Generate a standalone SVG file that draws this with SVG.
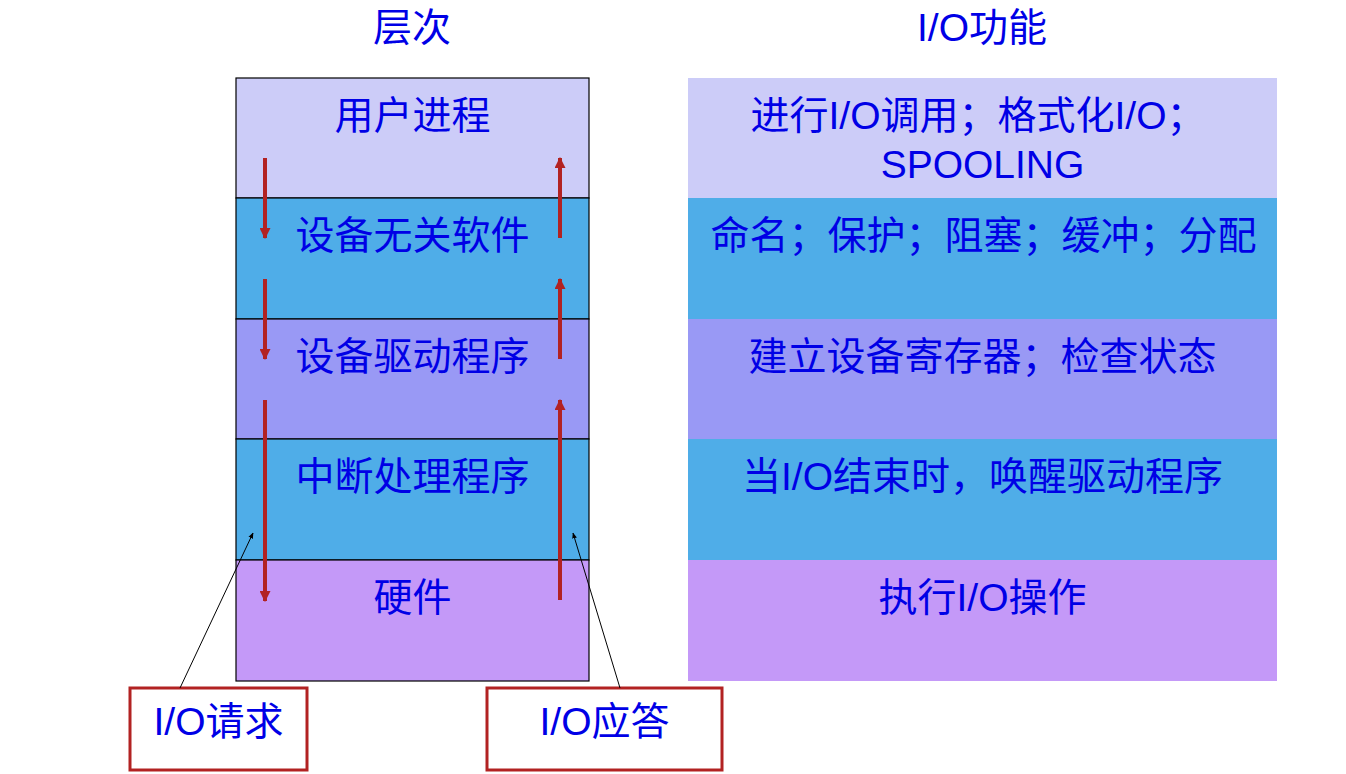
<svg xmlns="http://www.w3.org/2000/svg" width="1346" height="774" viewBox="0 0 1346 774">
<style>
.t{font-family:"Liberation Sans","Noto Sans CJK SC",sans-serif;font-size:39px;fill:#0000E6;text-anchor:middle}
.r1{fill:#CCCCF8}.r2{fill:#4FADE8}.r3{fill:#9999F5}.r5{fill:#C499F8}
.bd{stroke:#000;stroke-width:1.2}
.ar{stroke:#B22222;stroke-width:4;fill:none}
.cl{stroke:#000;stroke-width:1;fill:none}
.cb{fill:#fff;stroke:#B22222;stroke-width:3}
</style>
<defs>
<marker id="ah" viewBox="0 0 10 10" refX="9" refY="5" markerWidth="11" markerHeight="11" markerUnits="userSpaceOnUse" orient="auto"><path d="M0,0 L10,5 L0,10 z" fill="#B22222"/></marker>
<marker id="sh" viewBox="0 0 10 10" refX="9" refY="5" markerWidth="6" markerHeight="6" markerUnits="userSpaceOnUse" orient="auto"><path d="M0,1 L10,5 L0,9 z" fill="#000"/></marker>
</defs>
<rect width="1346" height="774" fill="#fff"/>
<g id="titles">
<text class="t" x="412" y="41">层次</text>
<text class="t" x="982" y="41">I/O功能</text>
</g>
<g id="layer-user">
<rect class="r1 bd" x="236" y="78" width="353" height="120"/>
<text class="t" x="412.5" y="129">用户进程</text>
</g>
<g id="layer-indep">
<rect class="r2 bd" x="236" y="198" width="353" height="121"/>
<text class="t" x="412.5" y="249">设备无关软件</text>
</g>
<g id="layer-driver">
<rect class="r3 bd" x="236" y="319" width="353" height="120"/>
<text class="t" x="412.5" y="370">设备驱动程序</text>
</g>
<g id="layer-irq">
<rect class="r2 bd" x="236" y="439" width="353" height="121"/>
<text class="t" x="412.5" y="490">中断处理程序</text>
</g>
<g id="layer-hw">
<rect class="r5 bd" x="236" y="560" width="353" height="121"/>
<text class="t" x="412.5" y="611">硬件</text>
</g>
<g id="func-user">
<rect class="r1" x="688" y="78" width="589" height="120"/>
<text class="t" x="978" y="129">进行I/O调用；格式化I/O；</text>
<text class="t" x="982.5" y="178">SPOOLING</text>
</g>
<g id="func-indep">
<rect class="r2" x="688" y="198" width="589" height="121"/>
<text class="t" x="983.5" y="249">命名；保护；阻塞；缓冲；分配</text>
</g>
<g id="func-driver">
<rect class="r3" x="688" y="319" width="589" height="120"/>
<text class="t" x="982.5" y="370">建立设备寄存器；检查状态</text>
</g>
<g id="func-irq">
<rect class="r2" x="688" y="439" width="589" height="121"/>
<text class="t" x="982.5" y="490">当I/O结束时，唤醒驱动程序</text>
</g>
<g id="func-hw">
<rect class="r5" x="688" y="560" width="589" height="121"/>
<text class="t" x="982.5" y="611">执行I/O操作</text>
</g>
<g id="callout-req">
<rect class="cb" x="130" y="688" width="177" height="82"/>
<text class="t" x="218.5" y="735">I/O请求</text>
</g>
<g id="callout-resp">
<rect class="cb" x="487" y="688" width="235" height="82"/>
<text class="t" x="604.5" y="735">I/O应答</text>
</g>
<g id="connectors">
<line class="ar" x1="265" y1="158" x2="265" y2="238" marker-end="url(#ah)"/>
<line class="ar" x1="265" y1="279" x2="265" y2="359" marker-end="url(#ah)"/>
<line class="ar" x1="265" y1="400" x2="265" y2="601" marker-end="url(#ah)"/>
<line class="ar" x1="560" y1="238" x2="560" y2="158" marker-end="url(#ah)"/>
<line class="ar" x1="560" y1="359" x2="560" y2="279" marker-end="url(#ah)"/>
<line class="ar" x1="560" y1="600" x2="560" y2="400" marker-end="url(#ah)"/>
<line class="cl" x1="180" y1="688" x2="253" y2="533" marker-end="url(#sh)"/>
<line class="cl" x1="620" y1="688" x2="573" y2="533" marker-end="url(#sh)"/>
</g>
</svg>
